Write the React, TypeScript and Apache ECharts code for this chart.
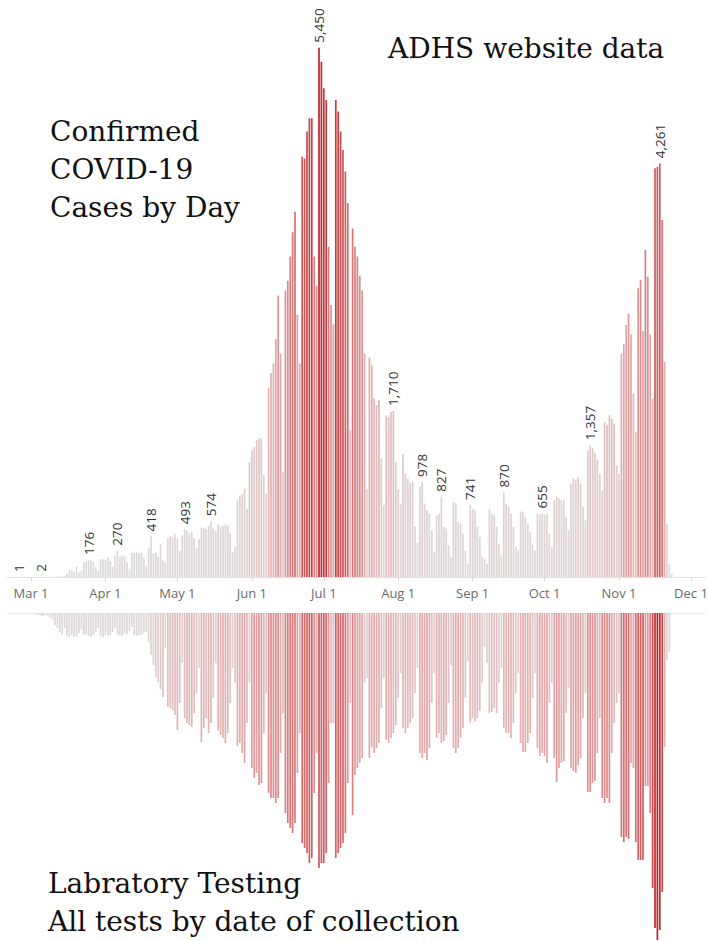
import React, { useEffect, useRef } from "react";
import * as echarts from "echarts";

// x positions are day offsets from Mar 1, 2020
const tickDays = [0, 31, 61, 92, 122, 153, 184, 214, 245, 275];
const tickLabels = ["Mar 1", "Apr 1", "May 1", "Jun 1", "Jul 1", "Aug 1", "Sep 1", "Oct 1", "Nov 1", "Dec 1"];

const caseStartDay = -5;
const dailyCases = [
  1, 0, 0, 0, 0,
  0, 0, 0, 0, 2, 0, 0,
  0, 0, 0, 3, 5, 6, 9,
  14, 35, 80, 70, 50, 110, 40,
  65, 150, 162, 176, 172, 160, 100,
  60, 185, 180, 178, 200, 165, 105,
  215, 270, 205, 220, 210, 150, 85,
  250, 245, 260, 245, 250, 200, 110,
  300, 418, 240, 250, 210, 340, 170,
  150, 400, 420, 410, 445, 390, 270,
  430, 493, 480, 450, 460, 400, 300,
  390, 510, 505, 495, 530, 574, 500,
  470, 540, 515, 525, 540, 530, 450,
  257, 309, 790, 841, 858, 910, 700,
  1184, 1305, 1339, 1407, 1425, 1430, 1050,
  858, 1950, 2100, 2200, 2450, 2900, 2300,
  1080, 2950, 3050, 3300, 3550, 3762, 2700,
  2200, 4328, 4310, 4587, 4724, 4724, 3300,
  3000, 5450, 5307, 5033, 4913, 3400, 2800,
  2600, 4913, 4793, 4587, 4398, 4175, 3848,
  1510, 3590, 3400, 3300, 3100, 2950, 2300,
  910, 2260, 2180, 1840, 1770, 1820, 1220,
  740, 1665, 1650, 1700, 1710, 1185, 900,
  755, 1270, 1064, 1013, 968, 980, 522,
  350, 927, 978, 755, 687, 652, 480,
  257, 635, 650, 827, 515, 498, 326,
  206, 772, 762, 566, 550, 445, 275,
  137, 741, 700, 687, 515, 412, 206,
  189, 137, 704, 652, 635, 515, 343,
  223, 870, 755, 721, 652, 515, 309,
  275, 676, 670, 618, 549, 463, 343,
  275, 652, 645, 655, 640, 652, 446,
  309, 790, 824, 807, 790, 790, 618,
  480, 961, 1013, 996, 1030, 961, 721,
  584, 1300, 1357, 1330, 1280, 1210, 1064,
  893, 1596, 1562, 1665, 1630, 1580, 1150,
  1064, 2300, 2400, 2595, 2714, 2500, 1888,
  1493, 2973, 3059, 2530, 3368, 3093, 2500,
  1837, 4208, 4225, 4261, 3677, 2214, 549,
  137, 34,
];
const labeledCaseDays = [-5, 4, 24, 36, 50, 64, 75, 120, 151, 163, 171, 183, 197, 213, 233, 262];

const testStartDay = 0;
const dailyTests = [
  0, 0, 150, 200, 250, 300, 200,
  250, 500, 700, 1200, 1500, 1900, 2100,
  1500, 2300, 2400, 2200, 2400, 2300, 2000,
  1600, 2200, 2100, 2300, 2400, 2200, 1900,
  1500, 2300, 2400, 2200, 2300, 2200, 1900,
  1500, 2100, 2200, 2300, 2000, 2100, 1800,
  1400, 2200, 2300, 2200, 2200, 2000, 1900,
  2900, 4200, 5200, 6400, 6900, 7600, 8400,
  3500, 9400, 9500, 9700, 10200, 11700, 9000,
  5000, 10500, 11000, 11200, 11400, 10000, 8000,
  5500, 12900, 11500, 10500, 12000, 11000, 8500,
  5000, 11800, 12200, 12500, 13000, 12000, 9000,
  5500, 7000, 13300, 13000, 14000, 15000, 11000,
  7000, 15500, 16500, 16000, 17200, 17000, 12000,
  8000, 18000, 18500, 18500, 19000, 18500, 14000,
  10000, 20000, 21000, 21500, 22000, 21000, 16000,
  12000, 23000, 23500, 24000, 25000, 24500, 18000,
  14000, 25500, 25000, 25000, 24000, 17000, 11000,
  11000, 24500, 24000, 23500, 23000, 22000, 17000,
  9000, 20200, 16200, 15500, 15000, 14500, 7000,
  6500, 14500, 13400, 14000, 13500, 13000, 9500,
  6500, 12700, 13000, 12500, 12000, 11200, 8500,
  6000, 11500, 12000, 11500, 11000, 10500, 8000,
  5500, 14000, 14500, 14000, 14700, 13500, 9000,
  6000, 12500, 12000, 13000, 12800, 12200, 9000,
  5200, 13500, 14000, 13500, 12500, 11500, 8500,
  4800, 11000, 10500, 10800, 10500, 9800, 7000,
  3400, 5000, 10000, 9900, 9500, 10000, 7000,
  5500, 11500, 12000, 12000, 12500, 11000, 8000,
  6000, 13000, 13900, 13900, 13000, 12000, 8500,
  6000, 13500, 14300, 14000, 14300, 15000, 9000,
  7000, 14500, 16900, 15500, 15000, 14800, 10000,
  7500, 15500, 15800, 16000, 15200, 14500, 10500,
  8000, 17900, 17900, 17000, 16800, 14000, 10500,
  18500, 19000, 18500, 19000, 14000, 11000, 9000,
  8000, 22400, 22900, 22400, 22600, 15000, 15500,
  22900, 24700, 24700, 24700, 17300, 17300, 20000,
  27500, 31500, 32700, 31700, 27900, 13400, 4700,
  3900, 0,
];

const colorStops: [number, number[]][] = [
  [0, [221, 219, 219]],
  [0.2, [222, 207, 207]],
  [0.45, [226, 166, 167]],
  [0.72, [211, 104, 106]],
  [1, [188, 34, 40]],
];

function rampColor(t: number): string {
  const x = Math.max(0, Math.min(1, t));
  for (let i = 1; i < colorStops.length; i++) {
    const [t1, c1] = colorStops[i];
    const [t0, c0] = colorStops[i - 1];
    if (x <= t1) {
      const f = (x - t0) / (t1 - t0);
      const c = c0.map((v, k) => Math.round(v + (c1[k] - v) * f));
      return `rgb(${c[0]},${c[1]},${c[2]})`;
    }
  }
  return "rgb(188,34,40)";
}

export default function App() {
  const ref = useRef<HTMLDivElement>(null);
  useEffect(() => {
    const chart = echarts.init(ref.current!, null, { renderer: "svg" });
    const caseMax = Math.max(...dailyCases);
    const testMax = Math.max(...dailyTests);
    const caseData = dailyCases.map((v, i) => {
      const d = caseStartDay + i;
      const item: any = { value: [d, v], itemStyle: { color: rampColor(v / caseMax) } };
      if (labeledCaseDays.includes(d)) item.label = { show: true };
      return item;
    });
    const testData = dailyTests.map((v, i) => ({
      value: [testStartDay + i, v],
      itemStyle: { color: rampColor(v / testMax) },
    }));
    const serif = '"DejaVu Serif", "Liberation Serif", serif';
    const titleText = (text: string, x: number, y: number) => ({
      type: "text",
      x,
      y,
      silent: true,
      style: { text, fill: "#111", font: `28px ${serif}`, verticalAlign: "middle", align: "left" },
    });
    const xMin = -10;
    const xMax = 281;
    const option: any = {
      animation: false,
      backgroundColor: "#ffffff",
      grid: [
        { left: 7, width: 698.4, top: 33.2, height: 543.8, outerBoundsMode: "none" },
        { left: 7, width: 698.4, top: 613, height: 328, outerBoundsMode: "none" },
      ],
      xAxis: [
        {
          type: "value",
          gridIndex: 0,
          min: xMin,
          max: xMax,
          splitLine: { show: false },
          axisLine: { show: true, lineStyle: { color: "#e2e2e2", width: 1 } },
          axisTick: { show: true, customValues: tickDays, length: 4, lineStyle: { color: "#d8d8d8" } },
          axisLabel: {
            show: true,
            customValues: tickDays,
            formatter: (v: number) => tickLabels[tickDays.indexOf(v)] ?? "",
            color: "#6b6b6b",
            fontSize: 13,
            fontFamily: '"Open Sans", sans-serif',
            margin: 9,
          },
        },
        {
          type: "value",
          gridIndex: 1,
          position: "top",
          min: xMin,
          max: xMax,
          splitLine: { show: false },
          axisLine: { show: true, lineStyle: { color: "#ececec", width: 1 } },
          axisTick: { show: false },
          axisLabel: { show: false },
        },
      ],
      yAxis: [
        { type: "value", gridIndex: 0, min: 0, max: 5600, show: false, splitLine: { show: false } },
        { type: "value", gridIndex: 1, min: 0, max: 32800, inverse: true, show: false, splitLine: { show: false } },
      ],
      series: [
        {
          type: "bar",
          name: "Confirmed cases",
          xAxisIndex: 0,
          yAxisIndex: 0,
          barWidth: 1.7,
          data: caseData,
          label: {
            show: false,
            position: "top",
            rotate: 90,
            align: "left",
            verticalAlign: "middle",
            distance: 5,
            fontSize: 13.5,
            fontFamily: '"Open Sans", sans-serif',
            color: "#333",
            formatter: (p: any) => Number(p.value[1]).toLocaleString("en-US"),
          },
        },
        {
          type: "bar",
          name: "Tests",
          xAxisIndex: 1,
          yAxisIndex: 1,
          barWidth: 1.7,
          data: testData,
        },
      ],
      graphic: [
        titleText("ADHS website data", 388, 48),
        titleText("Confirmed", 50, 131),
        titleText("COVID-19", 50, 169),
        titleText("Cases by Day", 50, 207),
        titleText("Labratory Testing", 48, 883),
        titleText("All tests by date of collection", 48, 921),
      ],
    };
    chart.setOption(option);
    return () => chart.dispose();
  }, []);
  return <div ref={ref} style={{ position: "absolute", left: 0, top: 0, width: 708, height: 941 }} />;
}
